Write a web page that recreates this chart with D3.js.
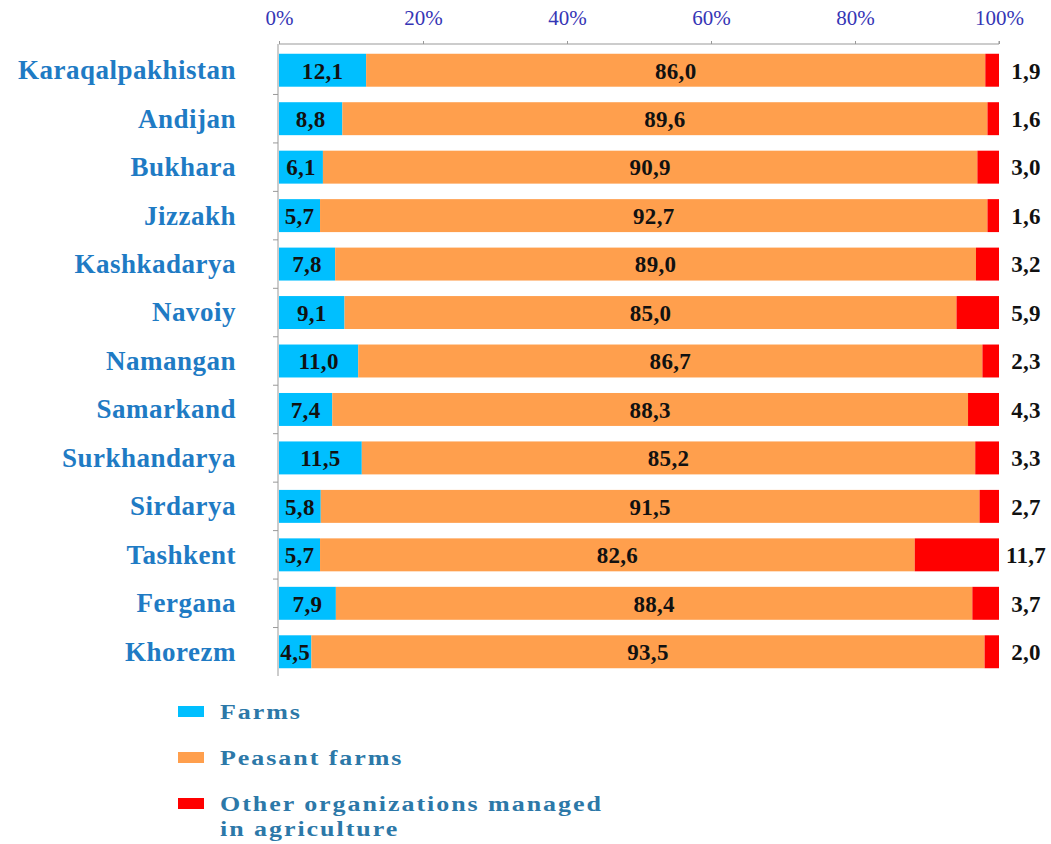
<!DOCTYPE html>
<html>
<head>
<meta charset="utf-8">
<script src="https://cdn.jsdelivr.net/npm/d3@7"></script>
<style>
  body { margin: 0; background: #fff; }
  text { font-family: "Liberation Serif", "Times New Roman", serif; }
</style>
</head>
<body>
<div id="chart"></div>
<script>
// regions and shares (%)
const regions = ['Karaqalpakhistan', 'Andijan', 'Bukhara', 'Jizzakh', 'Kashkadarya', 'Navoiy',
  'Namangan', 'Samarkand', 'Surkhandarya', 'Sirdarya', 'Tashkent', 'Fergana', 'Khorezm'];
const farms   = [12.1, 8.8, 6.1, 5.7, 7.8, 9.1, 11.0, 7.4, 11.5, 5.8, 5.7, 7.9, 4.5];
const peasant = [86.0, 89.6, 90.9, 92.7, 89.0, 85.0, 86.7, 88.3, 85.2, 91.5, 82.6, 88.4, 93.5];
const other   = [1.9, 1.6, 3.0, 1.6, 3.2, 5.9, 2.3, 4.3, 3.3, 2.7, 11.7, 3.7, 2.0];
const seriesNames = ['Farms', 'Peasant farms', 'Other organizations managed in agriculture'];
const tickValues = [0, 0.2, 0.4, 0.6, 0.8, 1];

const colors = ['#00BFFF', '#FF9F4D', '#FF0000'];

const width = 1051, height = 844;
const margin = { top: 44, left: 279, right: 52, bottom: 172 };

const svg = d3.select('#chart').append('svg')
  .attr('width', width)
  .attr('height', height);

const data = regions.map((r, i) => {
  const total = farms[i] + peasant[i] + other[i];
  return { region: r, vals: [farms[i], peasant[i], other[i]], total: total };
});

const x = d3.scaleLinear()
  .domain([0, 1])
  .range([margin.left, width - margin.right]);

const y = d3.scaleBand()
  .domain(regions)
  .range([margin.top + 2, height - margin.bottom + 4])
  .paddingInner(0.32)
  .paddingOuter(0.16);

// stacked segments
const stack = d3.stack()
  .keys([0, 1, 2])
  .value((d, k) => d.vals[k] / d.total);
const layers = stack(data);

const g = svg.append('g');

layers.forEach((layer, k) => {
  g.selectAll('.seg' + k)
    .data(layer)
    .enter().append('rect')
    .attr('class', 'seg' + k)
    .attr('x', d => x(d[0]))
    .attr('y', d => y(d.data.region))
    .attr('width', d => x(d[1]) - x(d[0]))
    .attr('height', y.bandwidth())
    .attr('fill', colors[k]);
});

// value labels
const fmt = v => v.toFixed(1).replace('.', ',');
layers.forEach((layer, k) => {
  g.selectAll('.lab' + k)
    .data(layer)
    .enter().append('text')
    .attr('x', d => k < 2 ? (x(d[0]) + x(d[1])) / 2 : x(1) + 27)
    .attr('y', d => y(d.data.region) + y.bandwidth() / 2)
    .attr('dy', '0.36em')
    .attr('text-anchor', 'middle')
    .attr('font-size', 23)
    .attr('font-weight', 'bold')
    .attr('letter-spacing', 0.3)
    .attr('fill', '#111')
    .text(d => fmt(d.data.vals[k]));
});

// top axis
const xAxis = svg.append('g')
  .attr('transform', `translate(0,${margin.top})`)
  .call(d3.axisTop(x).tickValues(tickValues).tickFormat(d3.format('.0%')).tickSize(3).tickPadding(16));
xAxis.select('.domain').attr('stroke', '#999').attr('d', `M${x(0)},0H${x(1)}V-3`);
xAxis.selectAll('.tick line').attr('stroke', '#999');
xAxis.selectAll('.tick text')
  .attr('font-family', '"Liberation Serif", serif')
  .attr('font-size', 21)
  .attr('fill', '#3535B5');

// left axis
const yAxis = svg.append('g')
  .attr('transform', `translate(${margin.left - 1},0)`);
yAxis.append('line')
  .attr('x1', 0).attr('x2', 0)
  .attr('y1', margin.top).attr('y2', y.range()[1])
  .attr('stroke', '#999');
yAxis.selectAll('.yt')
  .data(regions.slice(1))
  .enter().append('line')
  .attr('x1', -5).attr('x2', 0)
  .attr('y1', d => y(d) - y.step() * y.paddingInner() / 2)
  .attr('y2', d => y(d) - y.step() * y.paddingInner() / 2)
  .attr('stroke', '#999');

svg.selectAll('.cat')
  .data(regions)
  .enter().append('text')
  .attr('x', 236)
  .attr('y', d => y(d) + y.bandwidth() / 2)
  .attr('dy', '0.33em')
  .attr('text-anchor', 'end')
  .attr('font-size', 27)
  .attr('font-weight', 'bold')
  .attr('letter-spacing', 0.5)
  .attr('fill', '#1F7BC4')
  .text(d => d);

// legend (text is drawn a bit wide, like the original)
const legend = svg.append('g').attr('transform', 'translate(178,706)');
const lines = [['Farms'], ['Peasant farms'], ['Other organizations managed', 'in agriculture']];
lines.forEach((ln, i) => {
  const lg = legend.append('g').attr('transform', `translate(0,${i * 46})`);
  lg.append('rect').attr('width', 26).attr('height', 11).attr('fill', colors[i]);
  ln.forEach((t, j) => {
    lg.append('text')
      .attr('transform', `translate(42,${13 + j * 25}) scale(1.3,1)`)
      .attr('font-size', 20)
      .attr('font-weight', 'bold')
      .attr('letter-spacing', 1.5)
      .attr('fill', '#2C78A8')
      .text(t);
  });
});
</script>
</body>
</html>
